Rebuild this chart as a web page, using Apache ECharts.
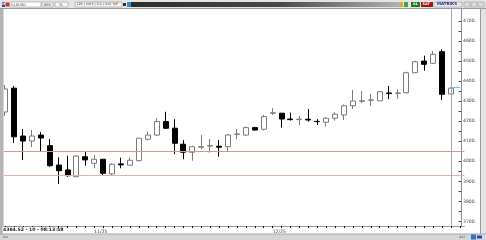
<!DOCTYPE html>
<html>
<head>
<meta charset="utf-8">
<script src="https://cdn.jsdelivr.net/npm/echarts@6/dist/echarts.min.js"></script>
<style>html,body{margin:0;padding:0;background:#fff}#c{width:486px;height:240px}</style>
</head>
<body>
<div id="c"></div>
<script>
// candle values: open, close, low, high
const opens  = [4246,4365,4126,4101,4131,4078,3981,3957,3923,4023,3990,4010,3937,3987,3980,4003,4110,4131,4198,4165,4085,4045,4070,4076,4075,4073,4134,4131,4168,4160,4240,4240,4211,4208,4210,4199,4195,4215,4231,4277,4300,4305,4302,4341,4339,4342,4442,4500,4489,4547,4336];
const closes = [4361,4122,4101,4126,4116,3978,3953,3928,4026,4007,4010,3940,3985,3982,4005,4115,4131,4198,4165,4090,4045,4073,4073,4078,4070,4131,4136,4168,4156,4223,4242,4211,4208,4210,4206,4198,4215,4235,4277,4301,4302,4306,4347,4338,4341,4442,4497,4484,4534,4334,4365];
const lows   = [4226,4091,4006,4071,4048,3973,3887,3923,3923,3978,3965,3931,3931,3965,3980,4000,4103,4126,4161,4036,4010,4003,4060,4043,4023,4048,4110,4126,4153,4153,4231,4168,4203,4181,4198,4181,4173,4203,4206,4261,4290,4276,4300,4310,4311,4339,4439,4452,4485,4305,4336];
const highs  = [4381,4376,4161,4156,4146,4111,4020,4028,4031,4048,4031,4010,3990,4018,4020,4115,4148,4215,4247,4210,4106,4078,4131,4111,4106,4135,4161,4173,4173,4231,4265,4240,4243,4226,4261,4210,4220,4245,4284,4356,4351,4336,4351,4376,4359,4447,4502,4527,4550,4559,4369];
const levelLines = [4048, 3928];
const lastPrice = 4369;
const yTickLabels = [3700,3800,3900,4000,4100,4200,4300,4400,4500,4600,4700];
const yMinorTicks = [3700,3750,3800,3850,3900,3950,4000,4050,4100,4150,4200,4250,4300,4350,4400,4450,4500,4550,4600,4650,4700];
const xTickLabels = ['11/25','12/25'];
const xTickIndex = [10,30];
const statusText = '4364.52 - 10 - 08:13:58';

const n = opens.length;
const categories = [];
for (let i = 0; i <= n; i++) categories.push(String(i));
const candleData = opens.map((o, i) => [o, closes[i], lows[i], highs[i]]);
const labelAt = {};
xTickIndex.forEach((ix, k) => { labelAt[ix] = xTickLabels[k]; });

const F = 'DejaVu Sans';
function box(x, y, w, h, fill, stroke) {
  return {type:'rect', z:100, shape:{x:x, y:y, width:w, height:h}, style:{fill:fill, stroke:stroke || null, lineWidth:stroke?0.6:0}};
}
function txt(x, y, t, size, color, weight) {
  return {type:'text', z:101, x:x, y:y, style:{text:t, fontSize:size, fill:color, fontFamily:F, fontWeight:weight||'normal', textVerticalAlign:'top'}};
}

const graphics = [
  // top strip
  box(0,0,486,9,'#e6e4e0'),
  {type:'line', z:100, shape:{x1:0,y1:8.5,x2:486,y2:8.5}, style:{stroke:'#9a9a9a', lineWidth:1}},
  {type:'rect', z:100, shape:{x:131,y:2,width:272,height:5}, style:{fill:{type:'linear',x:0,y:0,x2:1,y2:0,colorStops:[{offset:0,color:'#2c2c2c'},{offset:0.55,color:'#4a4a4a'},{offset:1,color:'#b4b4b4'}]}}},
  box(2,2,3,5,'#2a4f9a'),
  txt(2.3,2.3,'H',3.5,'#fff','bold'),
  box(5.5,2.5,4,4,'#d03030'),
  box(10,2,31,5,'#ffffff','#9a9a9a'),
  txt(11,2.6,'GLDUSD',3.5,'#444'),
  box(42,2,11,5,'#f4f4f4','#9a9a9a'),
  txt(44,2.6,'BSR',3.5,'#444'),
  box(55,2,13,5,'#f4f4f4','#9a9a9a'),
  txt(59,2.6,'TL',3.5,'#444'),
  box(75,2,47,5,'#f4f4f4','#9a9a9a'),
  txt(76.5,2.6,'12B | XXHI | S-S | XYZ TKP',3.2,'#444'),
  box(123,3,3,3,'#303030'),
  box(127,2,4,5,'#2a8fd6'),
  // right of top bar
  box(400,2,3,5,'#e0b020'),
  box(404,2,4,5,'#40a060'),
  box(411,2,9,5,'#1f7a1f'),
  txt(413,2.5,'AL',3.5,'#ffffff','bold'),
  box(421,2,12,5,'#a01818'),
  txt(422.5,2.5,'SAT',3.5,'#ffffff','bold'),
  box(434,2,28,5,'#e8e8f0','#9a9aa8'),
  txt(437,2.4,'MATRIKS',4,'#1a2a7a','bold'),
  box(464,2,6,5,'#dcdcdc','#9a9a9a'),
  box(471,2,6,5,'#dcdcdc','#9a9a9a'),
  box(478,2,6,5,'#dcdcdc','#9a9a9a'),
  // left bar
  box(0,9,3,231,'#b4b4b4'),
  {type:'line', z:100, shape:{x1:3.5,y1:9,x2:3.5,y2:234}, style:{stroke:'#d8d8d8', lineWidth:1}},
  // right border
  box(481,9,5,231,'#e4e4e4'),
  {type:'line', z:100, shape:{x1:480.5,y1:9,x2:480.5,y2:234}, style:{stroke:'#9a9a9a', lineWidth:1}},
  // bottom status bar
  box(0,234,486,6,'#d6d6d6'),
  {type:'line', z:100, shape:{x1:0,y1:234,x2:486,y2:234}, style:{stroke:'#a8a8a8', lineWidth:1}},
  txt(3,235.2,'Aa',3.5,'#555'),
  txt(459,235.2,'4a2',3.5,'#666'),
  box(471,234.5,5,5,'#3070c0'),
  box(477,235.5,5,3,'#2050a0'),
  // status text box
  box(2.5,227,55,6,'#ffffff'),
  txt(3,227.6,statusText,4.6,'#222','bold')
];

const chart = echarts.init(document.getElementById('c'), null, {renderer:'canvas'});
chart.setOption({
  animation: false,
  backgroundColor: '#ffffff',
  grid: {left: 0.62, top: 9, width: 463.8, height: 217, containLabel: false},
  xAxis: {
    type: 'category', data: categories, boundaryGap: true,
    axisLine: {show: true, lineStyle: {color: '#9a9a9a', width: 1}},
    axisTick: {show: true, interval: 0, alignWithLabel: true, length: 2, lineStyle: {color: '#111', width: 1}},
    axisLabel: {show: true, interval: 0, align: 'left', margin: 3, fontSize: 4.6, color: '#444', fontFamily: F,
      formatter: (v, idx) => labelAt[idx] || ''},
    splitLine: {show: false}
  },
  yAxis: {
    type: 'value', position: 'right', offset: -3.4, min: 3677, max: 4760, scale: true,
    axisLine: {show: true, lineStyle: {color: '#8a8a8a', width: 1}},
    axisTick: {show: true, inside: true, length: 2.5, customValues: yMinorTicks, lineStyle: {color: '#444'}},
    axisLabel: {show: true, margin: 2, fontSize: 4.6, color: '#444', fontFamily: F, customValues: yTickLabels,
      formatter: v => v + '.'},
    splitLine: {show: false}
  },
  graphic: graphics,
  series: [{
    type: 'candlestick',
    data: candleData,
    barWidth: 5.5,
    itemStyle: {color: '#ffffff', color0: '#000000', borderColor: '#7a7a7a', borderColor0: '#000000', borderWidth: 1},
    markLine: {
      silent: true, symbol: 'none', animation: false,
      label: {show: false},
      data: [
        {yAxis: levelLines[0], lineStyle: {color: '#e48e8e', width: 1, type: 'solid'}},
        {yAxis: levelLines[1], lineStyle: {color: '#efaaaa', width: 1.2, type: 'solid'}},
        {xAxis: String(n - 1), lineStyle: {color: '#a8a8a8', width: 1, type: 'solid'}},
        [{coord: [String(n - 1), lastPrice], lineStyle: {color: '#40d4e4', width: 1, type: 'solid'}}, {coord: [String(n), lastPrice]}]
      ]
    }
  }]
});
</script>
</body>
</html>
